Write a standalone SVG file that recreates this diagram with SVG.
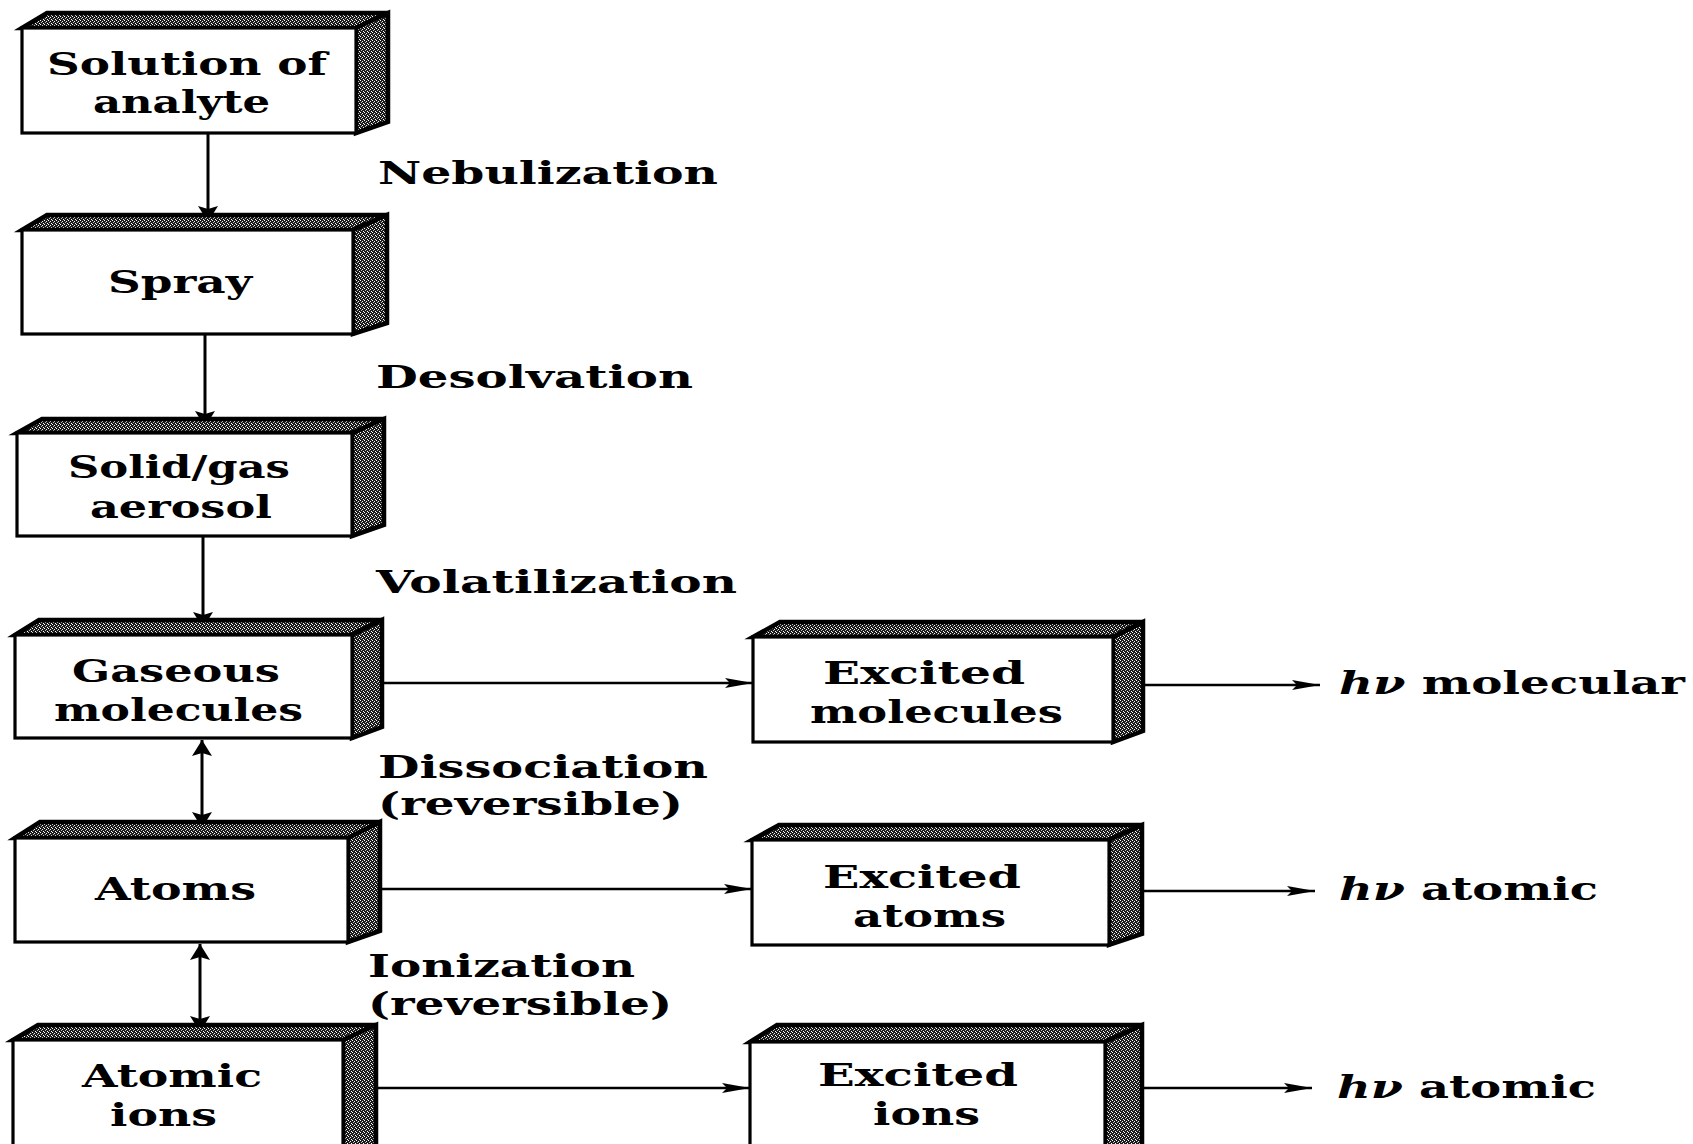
<svg xmlns="http://www.w3.org/2000/svg" width="1693" height="1144" viewBox="0 0 1693 1144">
<style>
  .face { fill: url(#dither); stroke: #000; stroke-width: 4.5; stroke-linejoin: miter; }
  .front { fill: #fff; stroke: #000; stroke-width: 3.2; }
  .t { font-family: "DejaVu Serif", "Liberation Serif", serif; font-weight: bold; font-size: 32px; fill: #000; }
  .it { font-style: italic; }
  .v { stroke: #000; stroke-width: 3; fill: none; }
  .h { stroke: #000; stroke-width: 2.4; fill: none; }
</style>
<defs>
  <pattern id="dither" width="4" height="4" patternUnits="userSpaceOnUse">
    <rect width="4" height="4" fill="#1c1c1c"/>
    <rect x="0" y="0" width="1" height="1" fill="#fff"/>
    <rect x="2" y="1" width="1" height="1" fill="#eee"/>
    <rect x="1" y="2" width="1" height="1" fill="#bbb"/>
    <rect x="3" y="3" width="1" height="1" fill="#fff"/>
  </pattern>
  <marker id="ahH" markerUnits="userSpaceOnUse" markerWidth="30" markerHeight="12" refX="28" refY="6" orient="auto-start-reverse" overflow="visible">
    <path d="M0,1 L28,6 L0,11 L5,6 Z" fill="#000"/>
  </marker>
  <marker id="ahV" markerUnits="userSpaceOnUse" markerWidth="18" markerHeight="22" refX="16" refY="11" orient="auto-start-reverse" overflow="visible">
    <path d="M0,1 L16,11 L0,21 L3,11 Z" fill="#000"/>
  </marker>
</defs>
<rect width="1693" height="1144" fill="#fff"/>

<g id="connectors">
  <line class="v" x1="208" y1="133" x2="208" y2="222" marker-end="url(#ahV)"/>
  <line class="v" x1="205" y1="334" x2="205" y2="427" marker-end="url(#ahV)"/>
  <line class="v" x1="203" y1="536" x2="203" y2="628" marker-end="url(#ahV)"/>
  <line class="v" x1="202" y1="740" x2="202" y2="828" marker-start="url(#ahV)" marker-end="url(#ahV)"/>
  <line class="v" x1="200" y1="944" x2="200" y2="1032" marker-start="url(#ahV)" marker-end="url(#ahV)"/>
  <line class="h" x1="382" y1="683" x2="753" y2="683" marker-end="url(#ahH)"/>
  <line class="h" x1="380" y1="889" x2="752" y2="889" marker-end="url(#ahH)"/>
  <line class="h" x1="376" y1="1088" x2="750" y2="1088" marker-end="url(#ahH)"/>
  <line class="h" x1="1143" y1="685" x2="1320" y2="685" marker-end="url(#ahH)"/>
  <line class="h" x1="1142" y1="891" x2="1315" y2="891" marker-end="url(#ahH)"/>
  <line class="h" x1="1142" y1="1088" x2="1312" y2="1088" marker-end="url(#ahH)"/>
</g>

<g id="solution">
  <polygon class="face" points="22,28 47,13 388,13 356,28"/>
  <polygon class="face" points="356,28 388,13 388,122 356,133"/>
  <rect class="front" x="22" y="28" width="334" height="105"/>
  <text class="t" x="47" y="75" textLength="280" lengthAdjust="spacingAndGlyphs">Solution of</text>
  <text class="t" x="93" y="113" textLength="177" lengthAdjust="spacingAndGlyphs">analyte</text>
</g>

<g id="spray">
  <polygon class="face" points="22,230 47,215 387,215 353,230"/>
  <polygon class="face" points="353,230 387,215 387,323 353,334"/>
  <rect class="front" x="22" y="230" width="331" height="104"/>
  <text class="t" x="108" y="293" textLength="144" lengthAdjust="spacingAndGlyphs">Spray</text>
</g>

<g id="aerosol">
  <polygon class="face" points="17,433 42,419 384,419 352,433"/>
  <polygon class="face" points="352,433 384,419 384,525 352,536"/>
  <rect class="front" x="17" y="433" width="335" height="103"/>
  <text class="t" x="68" y="478" textLength="222" lengthAdjust="spacingAndGlyphs">Solid/gas</text>
  <text class="t" x="90" y="518" textLength="182" lengthAdjust="spacingAndGlyphs">aerosol</text>
</g>

<g id="gaseous">
  <polygon class="face" points="15,635 39,620 382,620 352,635"/>
  <polygon class="face" points="352,635 382,620 382,727 352,738"/>
  <rect class="front" x="15" y="635" width="337" height="103"/>
  <text class="t" x="72" y="682" textLength="208" lengthAdjust="spacingAndGlyphs">Gaseous</text>
  <text class="t" x="54" y="721" textLength="249" lengthAdjust="spacingAndGlyphs">molecules</text>
</g>

<g id="atoms">
  <polygon class="face" points="15,838 40,822 380,822 348,838"/>
  <polygon class="face" points="348,838 380,822 380,931 348,942"/>
  <rect class="front" x="15" y="838" width="333" height="104"/>
  <text class="t" x="95" y="900" textLength="161" lengthAdjust="spacingAndGlyphs">Atoms</text>
</g>

<g id="atomic-ions">
  <polygon class="face" points="13,1040 38,1025 376,1025 343,1040"/>
  <polygon class="face" points="343,1040 376,1025 376,1150 343,1160"/>
  <rect class="front" x="13" y="1040" width="330" height="120"/>
  <text class="t" x="82" y="1087" textLength="180" lengthAdjust="spacingAndGlyphs">Atomic</text>
  <text class="t" x="110" y="1126" textLength="107" lengthAdjust="spacingAndGlyphs">ions</text>
</g>

<g id="excited-molecules">
  <polygon class="face" points="753,637 780,622 1143,622 1113,637"/>
  <polygon class="face" points="1113,637 1143,622 1143,731 1113,742"/>
  <rect class="front" x="753" y="637" width="360" height="105"/>
  <text class="t" x="823" y="684" textLength="202" lengthAdjust="spacingAndGlyphs">Excited</text>
  <text class="t" x="810" y="723" textLength="253" lengthAdjust="spacingAndGlyphs">molecules</text>
</g>

<g id="excited-atoms">
  <polygon class="face" points="752,840 779,825 1142,825 1109,840"/>
  <polygon class="face" points="1109,840 1142,825 1142,934 1109,945"/>
  <rect class="front" x="752" y="840" width="357" height="105"/>
  <text class="t" x="823" y="888" textLength="198" lengthAdjust="spacingAndGlyphs">Excited</text>
  <text class="t" x="853" y="927" textLength="153" lengthAdjust="spacingAndGlyphs">atoms</text>
</g>

<g id="excited-ions">
  <polygon class="face" points="750,1042 777,1025 1142,1025 1105,1042"/>
  <polygon class="face" points="1105,1042 1142,1025 1142,1150 1105,1160"/>
  <rect class="front" x="750" y="1042" width="355" height="118"/>
  <text class="t" x="818" y="1086" textLength="200" lengthAdjust="spacingAndGlyphs">Excited</text>
  <text class="t" x="873" y="1125" textLength="107" lengthAdjust="spacingAndGlyphs">ions</text>
</g>

<g id="labels">
  <text class="t" x="378" y="184" textLength="340" lengthAdjust="spacingAndGlyphs">Nebulization</text>
  <text class="t" x="376" y="388" textLength="317" lengthAdjust="spacingAndGlyphs">Desolvation</text>
  <text class="t" x="376" y="593" textLength="361" lengthAdjust="spacingAndGlyphs">Volatilization</text>
  <text class="t" x="378" y="778" textLength="330" lengthAdjust="spacingAndGlyphs">Dissociation</text>
  <text class="t" x="378" y="815" textLength="305" lengthAdjust="spacingAndGlyphs">(reversible)</text>
  <text class="t" x="368" y="977" textLength="267" lengthAdjust="spacingAndGlyphs">Ionization</text>
  <text class="t" x="368" y="1015" textLength="304" lengthAdjust="spacingAndGlyphs">(reversible)</text>
  <text class="t" x="1339" y="694" textLength="346" lengthAdjust="spacingAndGlyphs"><tspan class="it">hν</tspan> molecular</text>
  <text class="t" x="1339" y="900" textLength="259" lengthAdjust="spacingAndGlyphs"><tspan class="it">hν</tspan> atomic</text>
  <text class="t" x="1337" y="1098" textLength="259" lengthAdjust="spacingAndGlyphs"><tspan class="it">hν</tspan> atomic</text>
</g>
</svg>
